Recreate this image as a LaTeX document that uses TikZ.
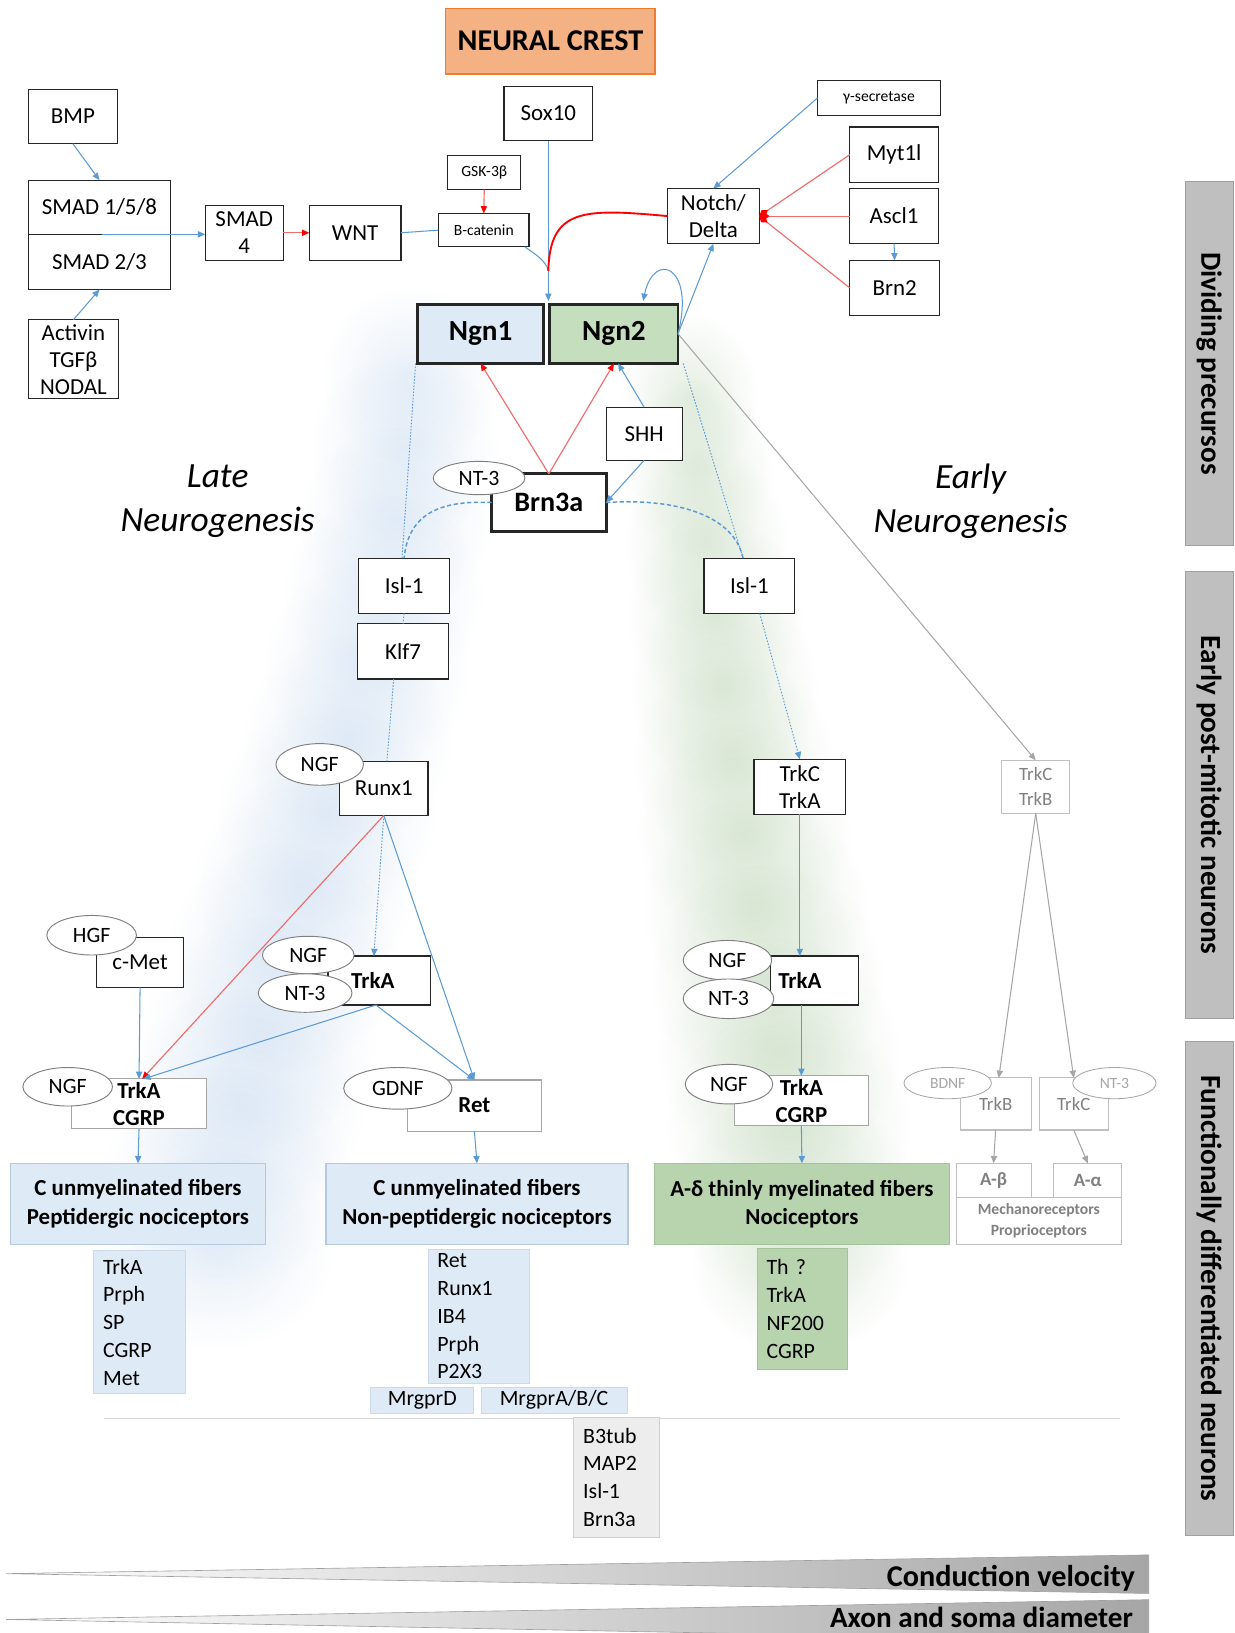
\documentclass[tikz,border=0pt]{standalone}
\usepackage{fontspec}
\setmainfont{Carlito}
\usetikzlibrary{arrows.meta,shapes.geometric,calc,fadings}
\newcommand\myfs[2]{\fontsize{#1}{#2}\selectfont}
\definecolor{arrblue}{HTML}{5B9BD5}
\definecolor{lblue}{HTML}{DEEBF7}
\definecolor{fibline}{HTML}{B4C8DE}
\definecolor{ngngreen}{HTML}{C5DEBD}
\definecolor{fgreen}{HTML}{B7D4AF}
\definecolor{fgline}{HTML}{A3C39A}
\definecolor{orfill}{HTML}{F4B183}
\definecolor{ordraw}{HTML}{ED7D31}
\definecolor{redl}{HTML}{F26B6B}
\definecolor{redh}{HTML}{FF0000}
\definecolor{greyl}{HTML}{A6A6A6}
\definecolor{gline}{HTML}{BFBFBF}
\definecolor{greyt}{HTML}{808080}
\definecolor{ellline}{HTML}{7F7F7F}
\definecolor{barfill}{HTML}{BFBFBF}
\definecolor{barline}{HTML}{A0A0A0}
\definecolor{mkgrey}{HTML}{EDEDED}
\definecolor{mkgline}{HTML}{D0D0D0}
\definecolor{boxline}{HTML}{262626}
\definecolor{glowblue}{HTML}{B5CFEC}
\definecolor{glowgreen}{HTML}{A9C99F}
\tikzfading[name=glowfade, inner color=transparent!0, outer color=transparent!100]
\tikzset{
  bx/.style={draw=boxline, line width=1.1pt, fill=white, inner sep=0pt, outer sep=0pt, align=center, font=\myfs{22}{26}},
  sbx/.style={bx, font=\myfs{15}{18}},
  bbx/.style={bx, font=\bfseries\myfs{22}{26}},
  ngnbx/.style={bx, line width=2.8pt, font=\bfseries\myfs{28}{32}},
  crest/.style={draw=ordraw, fill=orfill, line width=1.2pt, inner sep=0pt, font=\bfseries\myfs{29}{32}},
  ell/.style={ellipse, draw=ellline, line width=0.9pt, fill=white, inner sep=0pt, outer sep=0pt, font=\myfs{21}{24}},
  gbx/.style={draw=gline, line width=1pt, fill=white, inner sep=0pt, outer sep=0pt, align=center, text=greyt, font=\myfs{18}{24}},
  gbbx/.style={gbx, font=\bfseries\myfs{18}{24}},
  gell/.style={ellipse, draw=greyl, line width=0.8pt, fill=white, text=greyl, inner sep=0pt, font=\myfs{15}{18}},
  lbx/.style={draw=greyl, line width=1pt, fill=white, inner sep=0pt, outer sep=0pt, align=center, font=\bfseries\myfs{22}{26}},
  fib/.style={draw=fibline, fill=lblue, line width=1pt, inner sep=0pt, outer sep=0pt, align=center, font=\bfseries\myfs{22}{27}},
  fibg/.style={fib, fill=fgreen, draw=fgline},
  mk/.style={fill=lblue, draw=fibline!70, line width=0.8pt, inner xsep=9pt, inner ysep=0pt, outer sep=0pt, align=left, font=\myfs{21}{26.7}},
  mkc/.style={fill=lblue, draw=fibline!70, line width=0.8pt, inner sep=0pt, outer sep=0pt, align=center, font=\myfs{21}{26}},
  bar/.style={draw=barline, fill=barfill, line width=1pt, inner sep=0pt, rotate=-90, font=\bfseries\myfs{28}{30}},
  lbl/.style={align=center, font=\itshape\myfs{34}{42}},
  bl/.style={draw=arrblue, line width=1pt},
  rd/.style={draw=redl, line width=1.1pt},
  gr/.style={draw=greyl, line width=1pt},
  dotl/.style={draw=arrblue, line width=0.9pt, dash pattern=on 1.5pt off 1.5pt},
  dashl/.style={draw=arrblue, line width=1.4pt, dash pattern=on 4pt off 2.5pt},
  ar/.style={-{Triangle[length=7pt,width=6pt]}},
  arr/.style={-{Triangle[length=7pt,width=6pt,color=redh]}},
  dm/.style={-{Diamond[length=10pt,width=7pt,color=redh]}},
}
\begin{document}
\begin{tikzpicture}[x=1pt,y=-1pt]
\useasboundingbox (0,0) rectangle (1185,1568);
\fill[white] (0,0) rectangle (1185,1568);

% background glows (soft bands)
\foreach \cx/\cy/\rx/\ry in {395/360/85/85, 388/430/90/90, 380/500/92/90, 368/570/95/95, 352/640/98/100, 334/710/100/100, 314/780/104/105, 292/850/106/105, 270/920/110/110, 250/990/112/110, 232/1060/118/110, 218/1130/118/105, 208/1200/112/95}
  \fill[glowblue, opacity=.3, path fading=glowfade] (\cx,\cy) ellipse [x radius=\rx, y radius=\ry];
\foreach \cx/\cy/\rx/\ry in {662/380/65/80, 670/450/72/85, 678/520/78/90, 686/590/84/95, 695/660/90/100, 704/730/96/100, 714/800/102/105, 725/870/108/105, 736/940/112/110, 747/1010/116/110, 757/1080/118/110, 764/1150/114/105, 768/1215/104/85}
  \fill[glowgreen, opacity=.3, path fading=glowfade] (\cx,\cy) ellipse [x radius=\rx, y radius=\ry];

% top
\node[crest, minimum width=201pt, minimum height=63pt] (crest) at (528.5,39.5) {NEURAL CREST};
\node[bx, minimum width=86pt, minimum height=52pt] (bmp) at (70,112) {BMP};
\node[bx, minimum width=137pt, minimum height=52pt] (smadA) at (95.5,199) {SMAD 1/5/8};
\node[bx, minimum width=137pt, minimum height=53pt] (smadB) at (95.5,251.5) {SMAD 2/3};
\node[bx, minimum width=87pt, minimum height=76pt] (activin) at (70.5,345) {Activin\\TGFβ\\NODAL};
\node[bx, minimum width=75pt, minimum height=53pt] (smad4) at (234.5,223.5) {SMAD\\4};
\node[bx, minimum width=88pt, minimum height=53pt] (wnt) at (341,223.5) {WNT};
\node[sbx, minimum width=70pt, minimum height=33pt] (gsk) at (465,165.5) {GSK-3β};
\node[sbx, minimum width=87pt, minimum height=32pt] (bcat) at (464.5,221) {B-catenin};
\node[bx, minimum width=85pt, minimum height=52pt] (sox10) at (526.5,109) {Sox10};
\node[sbx, minimum width=118pt, minimum height=34pt] (gsec) at (844,94) {γ-secretase};
\node[bx, minimum width=85pt, minimum height=53pt] (myt1l) at (858.5,148.5) {Myt1l};
\node[bx, minimum width=85pt, minimum height=53pt] (ascl1) at (858.5,207.5) {Ascl1};
\node[bx, minimum width=86pt, minimum height=53pt] (brn2) at (859,276.5) {Brn2};
\node[bx, minimum width=88pt, minimum height=53pt] (notch) at (685,207.5) {Notch/\\Delta};
\node[ngnbx, fill=lblue, minimum width=121pt, minimum height=57pt] (ngn1) at (461.5,320.5) {Ngn1};
\node[ngnbx, fill=ngngreen, minimum width=123pt, minimum height=57pt] (ngn2) at (589.5,320.5) {Ngn2};
\node[bx, minimum width=73pt, minimum height=51pt] (shh) at (618.5,416.5) {SHH};
\node[ngnbx, font=\bfseries\myfs{27}{30}, minimum width=110pt, minimum height=55pt] (brn3a) at (527,482.5) {Brn3a};
\node[ell, minimum width=88pt, minimum height=32pt] (nt3a) at (460,459) {NT-3};

\node[lbl] (late) at (209,481) {Late\\Neurogenesis};
\node[lbl] (early) at (932,481) {Early\\Neurogenesis};

% middle
\node[bx, minimum width=88pt, minimum height=53pt] (isl1L) at (388,562.5) {Isl-1};
\node[bx, minimum width=88pt, minimum height=53pt] (klf7) at (387,625.5) {Klf7};
\node[bx, minimum width=87pt, minimum height=53pt] (isl1R) at (719.5,562.5) {Isl-1};
\node[bx, minimum width=85pt, minimum height=52pt] (runx1) at (368.5,757) {Runx1};
\node[ell, minimum width=84pt, minimum height=40pt] (ngf1) at (307,734) {NGF};
\node[bx, minimum width=88pt, minimum height=53pt] (trkCA) at (768,755.5) {TrkC\\TrkA};
\node[gbx, minimum width=65pt, minimum height=51pt] (trkCB) at (994.5,755.5) {TrkC\\TrkB};

\node[bx, minimum width=83pt, minimum height=48pt] (cmet) at (134.5,924) {c-Met};
\node[ell, minimum width=86pt, minimum height=38pt] (hgf) at (88,898) {HGF};
\node[bbx, minimum width=98pt, minimum height=47pt] (trkAm) at (364,941.5) {\hspace*{-12pt}TrkA};
\node[ell, minimum width=88pt, minimum height=36pt] (ngfM) at (296,917) {NGF};
\node[ell, minimum width=90pt, minimum height=37pt] (nt3M) at (293,953.5) {NT-3};
\node[bbx, minimum width=84pt, minimum height=47pt] (trkAr) at (782,941.5) {\hspace*{-28pt}TrkA};
\node[ell, minimum width=85pt, minimum height=38pt] (ngfR) at (698.5,922) {NGF};
\node[ell, minimum width=87pt, minimum height=38pt] (nt3R) at (699.5,959) {NT-3};

\node[lbx, minimum width=129pt, minimum height=48pt] (trkCGL) at (133.5,1060) {TrkA\\CGRP};
\node[ell, minimum width=86pt, minimum height=37pt] (ngfL) at (65,1043.5) {NGF};
\node[lbx, minimum width=129pt, minimum height=49pt] (ret) at (455.5,1061.5) {Ret};
\node[ell, minimum width=104pt, minimum height=40pt] (gdnf) at (382,1045) {GDNF};
\node[lbx, minimum width=129pt, minimum height=48pt] (trkCGR) at (769.5,1057) {TrkA\\CGRP};
\node[ell, minimum width=84pt, minimum height=38pt] (ngfR2) at (700,1041) {NGF};
\node[gbx, minimum width=68pt, minimum height=50pt] (trkB) at (956,1060) {TrkB};
\node[gbx, minimum width=66pt, minimum height=50pt] (trkC) at (1031,1060) {TrkC};
\node[gell, minimum width=84pt, minimum height=30pt] (bdnf) at (910,1040) {BDNF};
\node[gell, minimum width=80pt, minimum height=30pt] (nt3g) at (1070,1040) {NT-3};

% fibres
\node[fib, minimum width=245pt, minimum height=78pt] (cpep) at (132.5,1156) {C unmyelinated fibers\\Peptidergic nociceptors};
\node[fib, minimum width=290pt, minimum height=78pt] (cnon) at (458,1156) {C unmyelinated fibers\\Non-peptidergic nociceptors};
\node[fibg, minimum width=284pt, minimum height=78pt] (adelta) at (770,1156) {A-δ thinly myelinated fibers\\Nociceptors};
\node[gbbx, minimum width=72pt, minimum height=33pt] (abeta) at (954,1133.5) {A-β};
\node[gbbx, minimum width=65pt, minimum height=33pt] (aalpha) at (1044.5,1133.5) {A-α};
\node[gbx, font=\bfseries\myfs{15}{20}, minimum width=159pt, minimum height=45pt] (mech) at (997.5,1172.5) {Mechanoreceptors\\Proprioceptors};

% marker lists
\node[mk, text width=70pt, minimum height=137pt] (mk1) at (134,1269.5) {TrkA\\Prph\\SP\\CGRP\\Met};
\node[mk, text width=79pt, minimum height=128pt] (mk2) at (459.5,1264) {Ret\\Runx1\\IB4\\Prph\\P2X3};
\node[mkc, minimum width=99pt, minimum height=25pt] (mrgD) at (405.5,1344.5) {MrgprD};
\node[mkc, minimum width=140pt, minimum height=25pt] (mrgA) at (532,1344.5) {MrgprA/B/C};
\node[mk, fill=fgreen, draw=fgline, text width=69pt, minimum height=116pt] (mk3) at (770.5,1257) {Th ?\\TrkA\\NF200\\CGRP};
\draw[draw=mkgrey!80!gray, line width=1.2pt] (100,1362) -- (1075,1362);
\node[mk, fill=mkgrey, draw=mkgline, text width=64pt, minimum height=115pt] (mk4) at (592,1418.5) {B3tub\\MAP2\\Isl-1\\Brn3a};

% side bars
\node[bar, minimum width=350pt, minimum height=46pt] (bar1) at (1161,349) {Dividing precursos};
\node[bar, minimum width=429pt, minimum height=46pt] (bar2) at (1161,763.5) {Early post-mitotic neurons};
\node[bar, minimum width=474pt, minimum height=46pt] (bar3) at (1161,1237) {Functionally differentiated neurons};

% wedges
\begin{scope}
\clip (0,0) rectangle (1185,1568);
\shade[left color=white, right color=greyl, draw=barline, line width=0.6pt] (6,1511) -- (1103,1493) -- (1103,1530) -- cycle;
\shade[left color=white, right color=greyl, draw=barline, line width=0.6pt] (6,1555) -- (1103,1536) -- (1103,1576) -- cycle;
\end{scope}
\node[anchor=base east, inner sep=0pt, font=\bfseries\myfs{29}{32}] (cv) at (1090,1523) {Conduction velocity};
\node[anchor=base east, inner sep=0pt, font=\bfseries\myfs{28}{30}] (asd) at (1088,1563) {Axon and soma diameter};

% ---------- connectors ----------
\coordinate (jn) at (526.5,260);
\coordinate (ngtop) at (526.5,289);
\draw[bl,ar] (bmp.south) -- (smadA.north);
\draw[bl,ar] (activin.north) -- (smadB.south);
\draw[bl,ar] ($(smadA.south)+(2,0)$) -- (smadA.south -| smad4.west);
\draw[rd,arr] (smad4.east) -- (wnt.west);
\draw[bl] (wnt.east) -- (bcat.west);
\draw[rd,arr] (gsk.south) -- (bcat.north);
\draw[bl] ($(bcat.south east)+(-4,0)$) .. controls (515,245) and (524,250) .. (jn);
\draw[bl,ar] (sox10.south) -- (ngtop);
\draw[draw=redh, line width=1.8pt] (notch.west) .. controls (560,200) and (528,200) .. (jn);
\draw[bl,ar] (gsec.west) -- (notch.north);
\draw[rd,dm] (myt1l.west) -- (notch.east);
\draw[rd,dm] (ascl1.west) -- (notch.east);
\draw[rd,dm] (brn2.west) -- (notch.east);
\draw[bl,ar] (ascl1.south) -- (brn2.north);
\draw[bl,ar] (ngn2.east) -- (notch.south);
\draw[bl,ar] (ngn2.east) .. controls (668,255) and (628,240) .. ($(ngn2.north)+(28,-3)$);
\draw[rd,arr] (brn3a.north) -- (ngn1.south);
\draw[rd,arr] (brn3a.north) -- (ngn2.south);
\draw[bl,ar] (shh.north) -- ($(ngn2.south)+(4,0)$);
\draw[bl,ar] (shh.south) -- (brn3a.east);

\draw[dashl] (brn3a.west) .. controls (420,480) and (392,495) .. (isl1L.north);
\draw[dashl] (brn3a.east) .. controls (650,478) and (705,495) .. ($(isl1R.north)+(-6,0)$);

\draw[dotl] ($(ngn1.south west)+(-2,0)$) -- ($(isl1L.north)+(-2,0)$);
\draw[dotl] (isl1L.south) -- (klf7.north);
\draw[dotl] ($(klf7.south)+(-9,0)$) -- ($(runx1.north)+(3,0)$);
\draw[dotl] ($(ngn2.south east)+(5,0)$) -- ($(isl1R.north)+(-6,0)$);
\draw[dotl,ar] ($(isl1R.south)+(10,0)$) -- (trkCA.north);

\draw[gr,ar] (ngn2.east) -- (trkCB.north);
\draw[gr,ar] (trkCB.south) -- ($(trkB.north)+(3,0)$);
\draw[gr,ar] (trkCB.south) -- (trkC.north);
\draw[gr,ar] (trkB.south) -- (abeta.north);
\draw[gr,ar] (trkC.south) -- (aalpha.north);

\draw[bl,ar] (trkCA.south) -- (trkCA.south |- trkAr.north);
\draw[bl,ar] (trkCGR.north |- trkAr.south) -- (trkCGR.north);
\draw[bl,ar] (trkCGR.south) -- (adelta.north);

\draw[rd,arr] (runx1.south) -- ($(trkCGL.north)+(3,0)$);
\draw[dotl,ar] (runx1.south) -- ($(trkAm.north)+(-5,0)$);
\draw[bl,ar] (runx1.south) -- (ret.north);
\draw[bl,ar] (cmet.south) -- (trkCGL.north);
\draw[bl,ar] ($(trkAm.south)+(-3,0)$) -- ($(trkCGL.north)+(4,0)$);
\draw[bl,ar] ($(trkAm.south)+(-3,0)$) -- (ret.north);
\draw[bl,ar] (trkCGL.south) -- (cpep.north);
\draw[bl,ar] (ret.south) -- (cnon.north);
\end{tikzpicture}
\end{document}
